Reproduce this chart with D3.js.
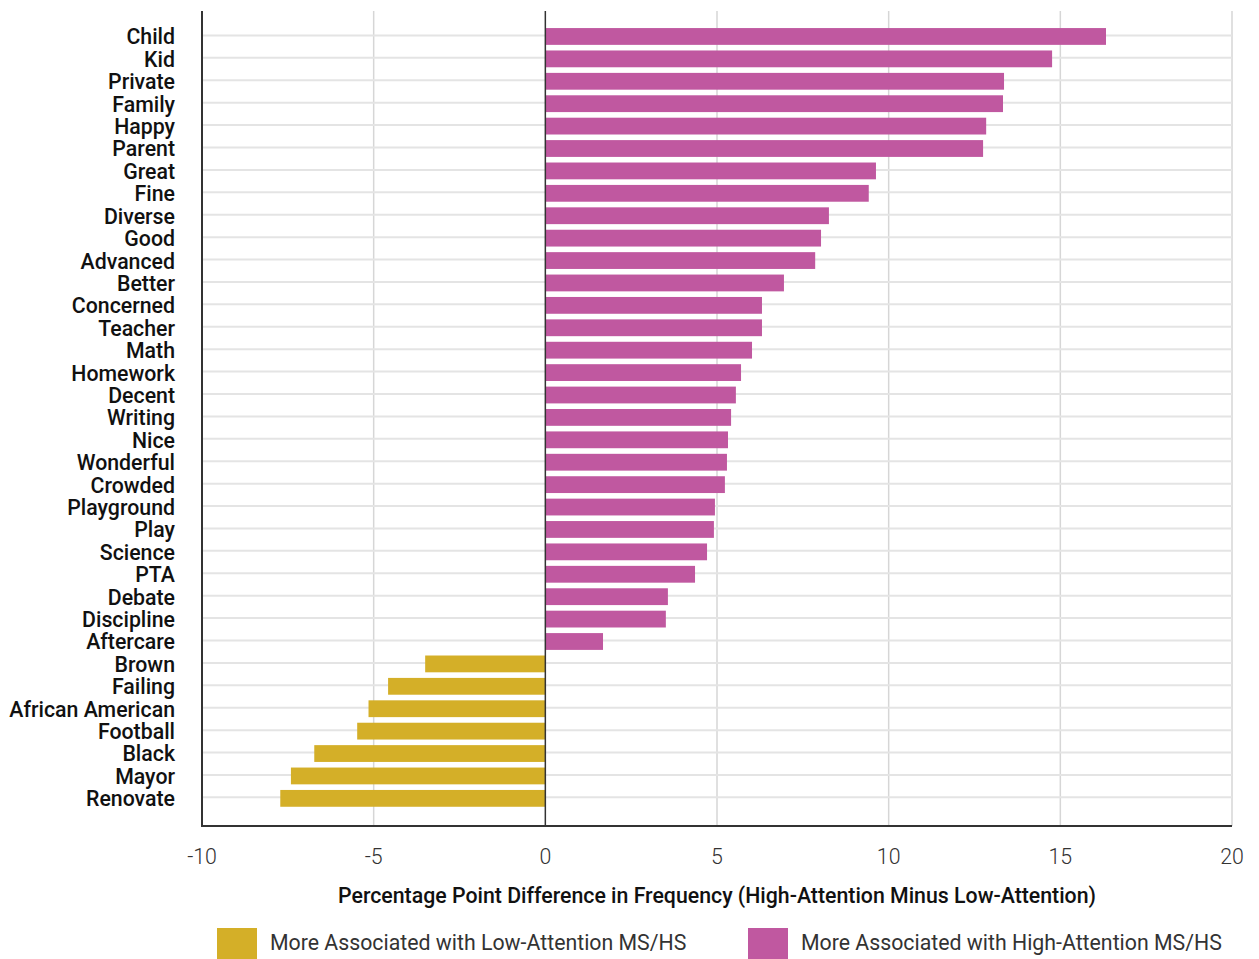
<!DOCTYPE html>
<html>
<head>
<meta charset="utf-8">
<script src="https://cdn.jsdelivr.net/npm/d3@7"></script>
<style>
  body { margin: 0; background: #fff; font-family: Roboto, "Open Sans", sans-serif; }
  .ylab { font-size: 21.3px; font-weight: 500; fill: #111; }
  .xtick { font-size: 21.3px; font-weight: 300; fill: #333; }
  .xtitle { font-size: 21.3px; font-weight: 500; fill: #111; }
  .legend { font-size: 21.3px; font-weight: 400; fill: #333; }
</style>
</head>
<body>
<svg id="chart" width="1259" height="959"></svg>
<script>
// words, top to bottom
const words = ["Child", "Kid", "Private", "Family", "Happy", "Parent", "Great", "Fine",
  "Diverse", "Good", "Advanced", "Better", "Concerned", "Teacher", "Math", "Homework",
  "Decent", "Writing", "Nice", "Wonderful", "Crowded", "Playground", "Play", "Science",
  "PTA", "Debate", "Discipline", "Aftercare", "Brown", "Failing", "African American",
  "Football", "Black", "Mayor", "Renovate"];

// percentage point difference (high-attention minus low-attention)
const diffs = [16.33, 14.76, 13.36, 13.33, 12.84, 12.75, 9.63, 9.42,
  8.26, 8.03, 7.86, 6.95, 6.31, 6.31, 6.02, 5.70,
  5.55, 5.41, 5.32, 5.29, 5.23, 4.94, 4.91, 4.71,
  4.36, 3.57, 3.51, 1.68, -3.50, -4.58, -5.15,
  -5.48, -6.73, -7.41, -7.72];

const xTicks = [-10, -5, 0, 5, 10, 15, 20];
const legendItems = ["More Associated with Low-Attention MS/HS", "More Associated with High-Attention MS/HS"];
const COLORS = { low: "#D4AF28", high: "#C058A0" };

const data = words.map((w, i) => ({ word: w, value: diffs[i] }));

const M = { left: 202, right: 27, top: 11, bottom: 133 };
const W = 1259, H = 959;
const svg = d3.select("#chart");

const x = d3.scaleLinear().domain([-10, 20]).range([M.left, W - M.right]);
const y = d3.scaleBand().domain(words).range([M.top, H - M.bottom])
    .paddingInner(0.25).paddingOuter(0.81).align(0.47);

// vertical grid
svg.append("g").selectAll("line").data(xTicks.filter(t => t !== 0 && t !== -10)).join("line")
    .attr("x1", d => x(d)).attr("x2", d => x(d))
    .attr("y1", M.top).attr("y2", H - M.bottom)
    .attr("stroke", "#d6d6d6").attr("stroke-width", 1.5);

// horizontal grid, one per word
svg.append("g").selectAll("line").data(words).join("line")
    .attr("x1", M.left).attr("x2", W - M.right)
    .attr("y1", d => y(d) + y.bandwidth() / 2 - 1).attr("y2", d => y(d) + y.bandwidth() / 2 - 1)
    .attr("stroke", "#e4e4e4").attr("stroke-width", 2);

// bars
svg.append("g").selectAll("rect").data(data).join("rect")
    .attr("x", d => x(Math.min(0, d.value)))
    .attr("width", d => Math.abs(x(d.value) - x(0)))
    .attr("y", d => y(d.word)).attr("height", y.bandwidth())
    .attr("fill", d => d.value < 0 ? COLORS.low : COLORS.high);

// zero line
svg.append("line")
    .attr("x1", x(0)).attr("x2", x(0)).attr("y1", M.top).attr("y2", H - M.bottom)
    .attr("stroke", "#333").attr("stroke-width", 1.5);

// axis frame
svg.append("line").attr("x1", M.left).attr("x2", M.left).attr("y1", M.top).attr("y2", H - M.bottom + 1)
    .attr("stroke", "#333").attr("stroke-width", 2);
svg.append("line").attr("x1", M.left).attr("x2", W - M.right).attr("y1", H - M.bottom).attr("y2", H - M.bottom)
    .attr("stroke", "#333").attr("stroke-width", 2);

// word labels
svg.append("g").selectAll("text").data(words).join("text")
    .attr("class", "ylab")
    .attr("x", 175).attr("y", d => y(d) + y.bandwidth() / 2 + 0.5)
    .attr("dy", "0.35em").attr("text-anchor", "end")
    .text(d => d);

// x tick labels
svg.append("g").selectAll("text").data(xTicks).join("text")
    .attr("class", "xtick")
    .attr("x", d => x(d)).attr("y", 857).attr("dy", "0.35em")
    .attr("text-anchor", "middle")
    .text(d => d);

svg.append("text").attr("class", "xtitle")
    .attr("x", (M.left + W - M.right) / 2).attr("y", 896).attr("dy", "0.35em")
    .attr("text-anchor", "middle")
    .text("Percentage Point Difference in Frequency (High-Attention Minus Low-Attention)");

// legend
const lg = svg.append("g");
const legendX = [217, 748];
legendItems.forEach((t, i) => {
  lg.append("rect").attr("x", legendX[i]).attr("y", 928).attr("width", 40).attr("height", 32)
    .attr("fill", i === 0 ? COLORS.low : COLORS.high);
  lg.append("text").attr("class", "legend")
    .attr("x", legendX[i] + 53).attr("y", 943).attr("dy", "0.35em")
    .text(t);
});
</script>
</body>
</html>
